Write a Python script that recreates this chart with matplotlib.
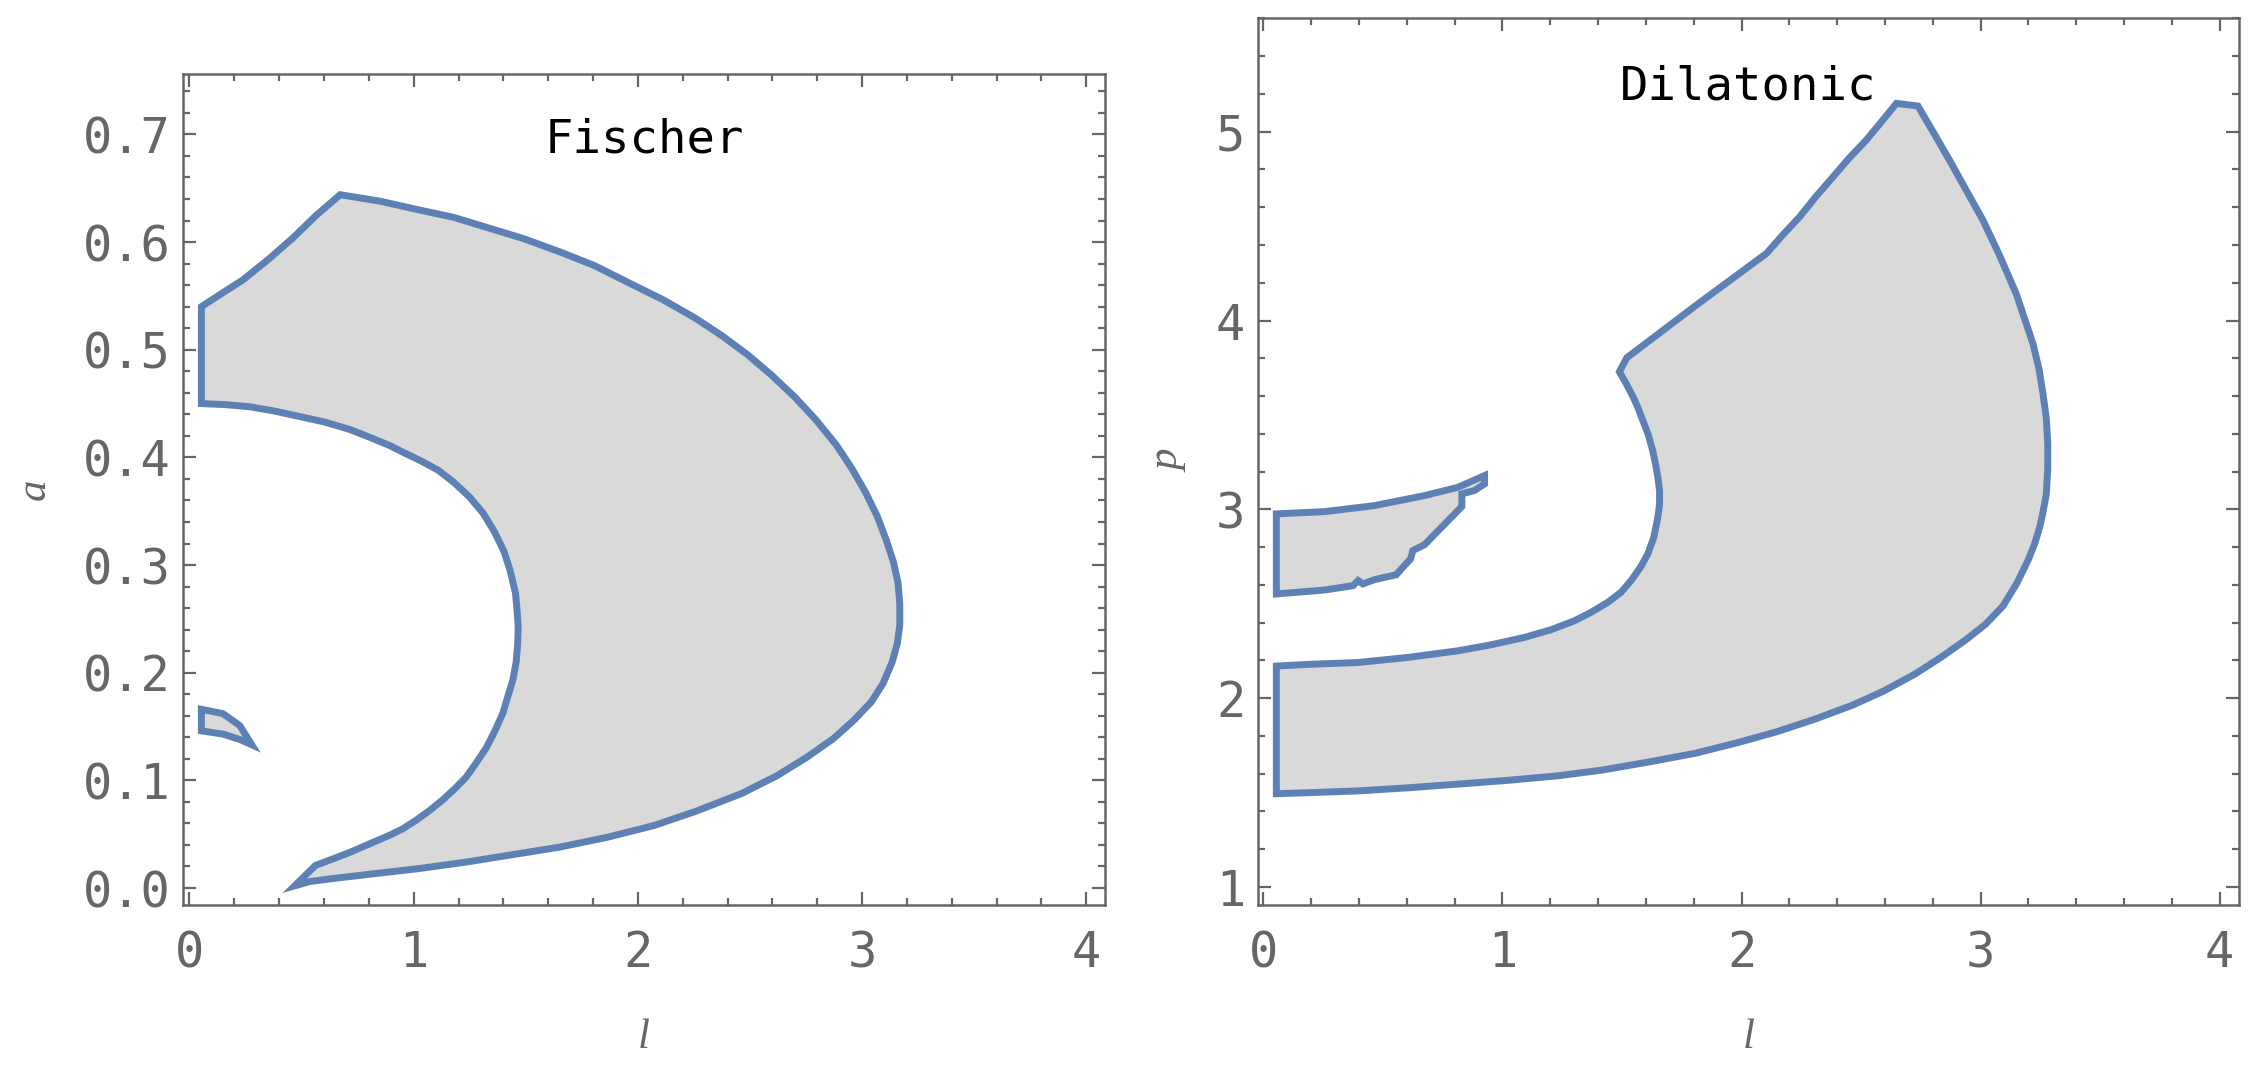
import matplotlib
matplotlib.use("Agg")
import matplotlib.pyplot as plt
from matplotlib.ticker import FixedLocator, MultipleLocator

# ---------------- data ----------------
# Fischer panel: allowed region in (l, a), traced clockwise
fischer_main_l = [0.053, 0.149, 0.239, 0.358, 0.462, 0.566, 0.672,
                  0.850, 1.021, 1.178, 1.336, 1.493, 1.651, 1.808, 1.966, 2.110,
                  2.255, 2.373, 2.491, 2.596, 2.701, 2.793, 2.885, 2.955, 3.016,
                  3.068, 3.108, 3.139, 3.160, 3.168, 3.168, 3.157, 3.134, 3.094,
                  3.042, 2.963, 2.871, 2.753, 2.622, 2.465, 2.255, 2.071, 1.861,
                  1.651, 1.441, 1.231, 1.021, 0.811, 0.627, 0.536, 0.469,
                  0.562, 0.639, 0.714, 0.803, 0.892, 0.951, 1.011, 1.071, 1.130,
                  1.182, 1.234, 1.278, 1.323, 1.360, 1.397, 1.420, 1.442, 1.457,
                  1.464, 1.466, 1.461, 1.454, 1.430, 1.402, 1.360, 1.310, 1.250,
                  1.178, 1.110, 1.030, 0.960, 0.893, 0.800, 0.714, 0.600, 0.490,
                  0.380, 0.270, 0.160, 0.053]
fischer_main_a = [0.540, 0.553, 0.565, 0.585, 0.604, 0.625, 0.644,
                  0.638, 0.630, 0.623, 0.613, 0.603, 0.591, 0.578, 0.5615, 0.5467,
                  0.5295, 0.5133, 0.4951, 0.4764, 0.4558, 0.4351, 0.4115, 0.3894,
                  0.3673, 0.3451, 0.3230, 0.3033, 0.2837, 0.2640, 0.2443, 0.2271,
                  0.2099, 0.1903, 0.1731, 0.1558, 0.1386, 0.1214, 0.1045, 0.088,
                  0.071, 0.058, 0.047, 0.038, 0.031, 0.024, 0.018, 0.013, 0.0085,
                  0.006, 0.002,
                  0.021, 0.027, 0.033, 0.041, 0.049, 0.055, 0.063, 0.072, 0.082,
                  0.092, 0.103, 0.116, 0.130, 0.145, 0.162, 0.178, 0.193, 0.210,
                  0.227, 0.243, 0.258, 0.274, 0.295, 0.313, 0.331, 0.348, 0.363,
                  0.377, 0.388, 0.397, 0.404, 0.411, 0.419, 0.426, 0.433, 0.438,
                  0.443, 0.447, 0.449, 0.450]
fischer_small_l = [0.053, 0.149, 0.224, 0.278, 0.224, 0.149, 0.053]
fischer_small_a = [0.166, 0.162, 0.151, 0.133, 0.138, 0.143, 0.146]

# Dilatonic panel: allowed region in (l, p), traced clockwise
dil_main_l = [0.054, 0.187, 0.396, 0.605, 0.814, 0.953, 1.092, 1.204, 1.301,
              1.371, 1.441, 1.496, 1.538, 1.577, 1.608, 1.633, 1.650, 1.657,
              1.657, 1.650, 1.640, 1.628, 1.610, 1.586, 1.567, 1.547, 1.520,
              1.489, 1.520, 1.825, 2.104, 2.170, 2.243, 2.310, 2.383, 2.450,
              2.522, 2.590, 2.648, 2.738, 2.801, 2.870, 2.940, 3.010, 3.079,
              3.149, 3.191, 3.219, 3.244, 3.261, 3.275, 3.281, 3.281, 3.275,
              3.261, 3.247, 3.226, 3.198, 3.151, 3.093, 3.020, 2.936, 2.836,
              2.726, 2.595, 2.464, 2.307, 2.149, 1.979, 1.809, 1.612, 1.415,
              1.232, 1.022, 0.814, 0.600, 0.396, 0.200, 0.054]
dil_main_p = [2.170, 2.179, 2.189, 2.216, 2.251, 2.283, 2.322, 2.363, 2.410,
              2.455, 2.508, 2.561, 2.623, 2.693, 2.764, 2.852, 2.958, 3.029,
              3.100, 3.170, 3.241, 3.312, 3.395, 3.474, 3.537, 3.594, 3.660,
              3.729, 3.803, 4.095, 4.355, 4.450, 4.549, 4.655, 4.761, 4.860,
              4.956, 5.060, 5.150, 5.136, 5.000, 4.849, 4.690, 4.531, 4.346,
              4.142, 3.984, 3.878, 3.745, 3.613, 3.480, 3.347, 3.215, 3.082,
              2.985, 2.905, 2.817, 2.729, 2.607, 2.487, 2.391, 2.307, 2.218,
              2.128, 2.038, 1.963, 1.889, 1.823, 1.763, 1.709, 1.662, 1.619,
              1.589, 1.565, 1.545, 1.525, 1.509, 1.500, 1.494]
dil_small_l = [0.054, 0.256, 0.465, 0.674, 0.814, 0.925, 0.925, 0.883, 0.830,
               0.830, 0.674, 0.625, 0.616, 0.577, 0.556, 0.465, 0.416, 0.396,
               0.375, 0.256, 0.054]
dil_small_p = [2.976, 2.988, 3.020, 3.073, 3.117, 3.179, 3.135, 3.100, 3.082,
               3.015, 2.813, 2.782, 2.738, 2.685, 2.654, 2.628, 2.605, 2.623,
               2.596, 2.573, 2.552]

l_ticks = [0, 1, 2, 3, 4]
l_tick_labels = ["0", "1", "2", "3", "4"]
a_ticks = [0.0, 0.1, 0.2, 0.3, 0.4, 0.5, 0.6, 0.7]
a_tick_labels = ["0.0", "0.1", "0.2", "0.3", "0.4", "0.5", "0.6", "0.7"]
p_ticks = [1, 2, 3, 4, 5]
p_tick_labels = ["1", "2", "3", "4", "5"]

panel_titles = ["Fischer", "Dilatonic"]

# ---------------- style ----------------
plt.rcParams['font.family'] = ['DejaVu Sans Mono', 'DejaVu Sans']
EDGE = '#5e81b5'
FILL = '#d9d9d9'
GRAY = '#666666'
TICKFS = 35
LABEL_FONT = dict(family=['Liberation Serif', 'DejaVu Serif'], style='italic',
                  size=31, color=GRAY)

fig = plt.figure(figsize=(22.61, 10.67), dpi=100)
ax1 = fig.add_axes([0.08103, 0.1518, 0.40756, 0.77882])
ax2 = fig.add_axes([0.55626, 0.1518, 0.43401, 0.83130])


def style_axes(ax, yticks, ylabels, yminor):
    for s in ax.spines.values():
        s.set_color(GRAY)
        s.set_linewidth(1.8)
    ax.xaxis.set_major_locator(FixedLocator(l_ticks))
    ax.set_xticklabels(l_tick_labels)
    ax.xaxis.set_minor_locator(MultipleLocator(0.2))
    ax.yaxis.set_major_locator(FixedLocator(yticks))
    ax.set_yticklabels(ylabels)
    ax.yaxis.set_minor_locator(MultipleLocator(yminor))
    ax.tick_params(which='both', direction='in', top=True, right=True,
                   colors=GRAY, width=1.6, labelsize=TICKFS)
    ax.tick_params(which='major', length=9.6)
    ax.tick_params(which='minor', length=5.3)
    ax.tick_params(axis='x', which='both', pad=17.5)
    ax.tick_params(axis='y', which='both', pad=9.0)


def draw_region(ax, xs, ys):
    ax.fill(xs, ys, facecolor=FILL, edgecolor=EDGE, linewidth=5,
            joinstyle='miter')


# Fischer panel
draw_region(ax1, fischer_main_l, fischer_main_a)
draw_region(ax1, fischer_small_l, fischer_small_a)
ax1.set_xlim(-0.028, 4.082)
ax1.set_ylim(-0.0158, 0.7561)
style_axes(ax1, a_ticks, a_tick_labels, 0.02)
ax1.text(0.5, 0.906, panel_titles[0], transform=ax1.transAxes, ha='center',
         va='baseline', fontsize=34, color='black')
ax1.set_xlabel('l', **LABEL_FONT)
ax1.set_ylabel('a', **LABEL_FONT)
ax1.xaxis.set_label_coords(0.5, -0.136)
ax1.yaxis.set_label_coords(-0.141, 0.5)

# Dilatonic panel
draw_region(ax2, dil_main_l, dil_main_p)
draw_region(ax2, dil_small_l, dil_small_p)
ax2.set_xlim(-0.024, 4.081)
ax2.set_ylim(0.9046, 5.602)
style_axes(ax2, p_ticks, p_tick_labels, 0.2)
ax2.text(0.5, 0.9076, panel_titles[1], transform=ax2.transAxes, ha='center',
         va='baseline', fontsize=34, color='black')
ax2.set_xlabel('l', **LABEL_FONT)
ax2.set_ylabel('p', **LABEL_FONT)
ax2.xaxis.set_label_coords(0.5, -0.1274)
ax2.yaxis.set_label_coords(-0.071, 0.5)

fig.savefig('out.png', dpi=100)
